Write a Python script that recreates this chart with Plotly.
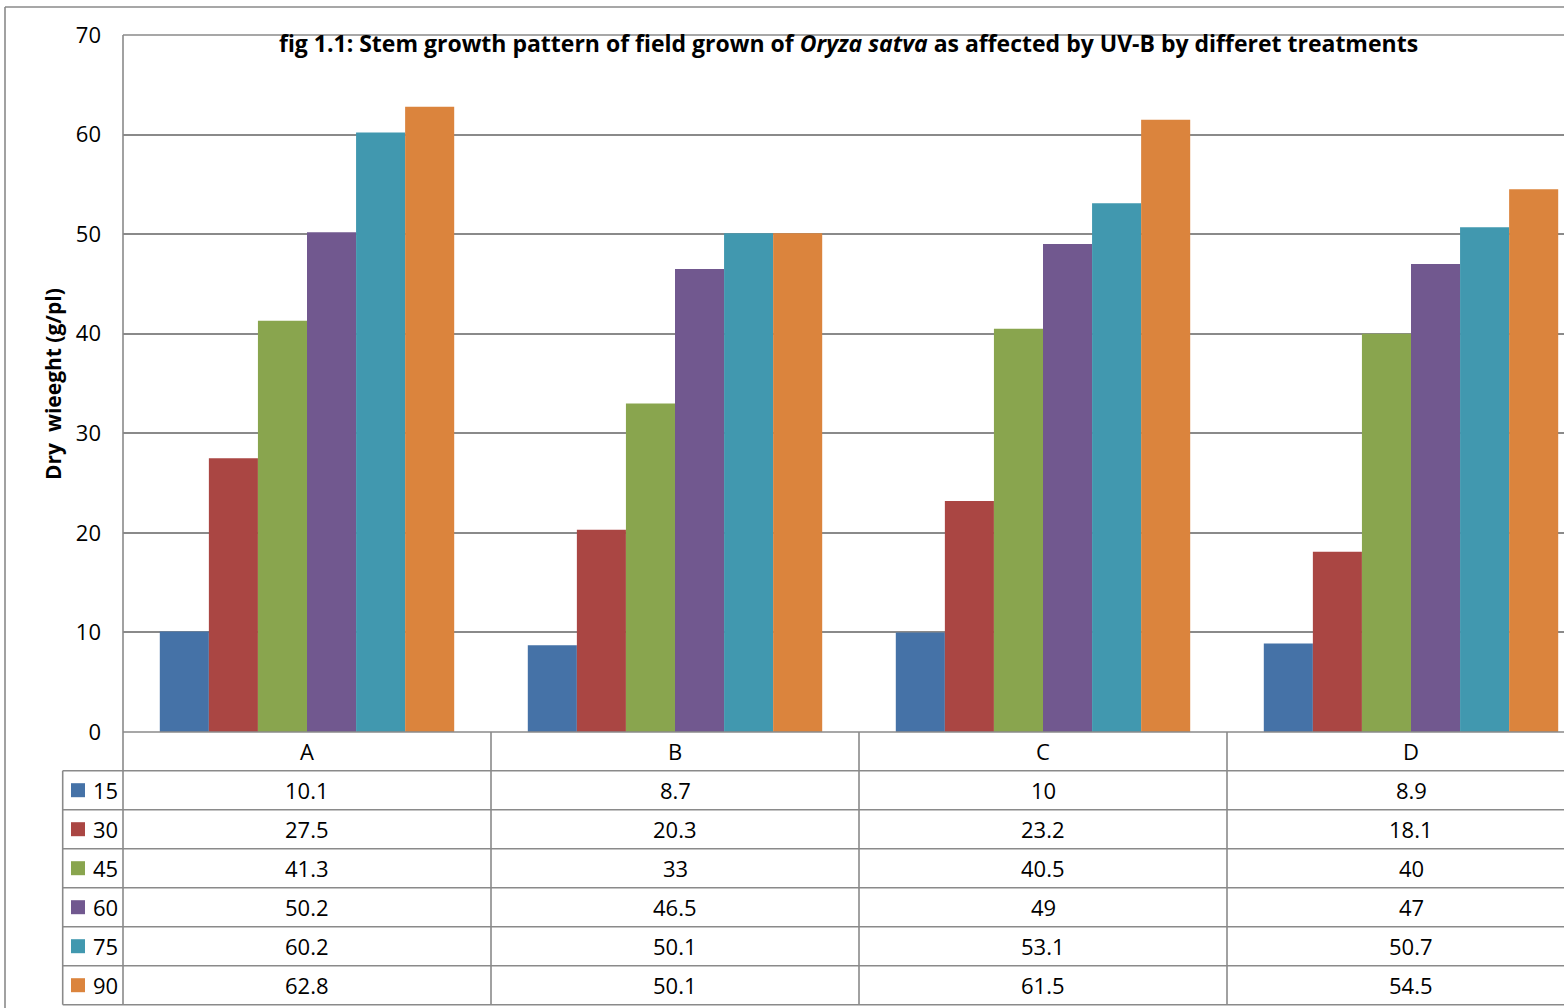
import plotly.graph_objects as go

categories = ["A", "B", "C", "D"]
series_names = ["15", "30", "45", "60", "75", "90"]
v15 = [10.1, 8.7, 10, 8.9]
v30 = [27.5, 20.3, 23.2, 18.1]
v45 = [41.3, 33, 40.5, 40]
v60 = [50.2, 46.5, 49, 47]
v75 = [60.2, 50.1, 53.1, 50.7]
v90 = [62.8, 50.1, 61.5, 54.5]
series_values = [v15, v30, v45, v60, v75, v90]
colors = ["#4572A7", "#AA4643", "#89A54E", "#71588F", "#4198AF", "#DB843D"]
y_ticks = [0, 10, 20, 30, 40, 50, 60, 70]

W, H = 1564, 1008
L, R, T, B = 123, 0, 35, 276
PW, PH = W - L - R, H - T - B
CAT_W = 368.0

FONT = "Open Sans"
FS = 22
GRID = "#8a8a8a"


def px(xp):
    return (xp - L) / PW


def py(yp):
    return (T + PH - yp) / PH


fig = go.Figure()
for name, vals, col in zip(series_names, series_values, colors):
    fig.add_trace(go.Bar(x=categories, y=vals, name=name, marker=dict(color=col, line=dict(width=0)),
                         showlegend=False))

x_max = -0.5 + PW / CAT_W

shapes = []
line = dict(color=GRID, width=1.6)
# outer chart border
shapes.append(dict(type="line", xref="paper", yref="paper", x0=px(5), x1=px(5), y0=py(7), y1=py(1012), line=line))
shapes.append(dict(type="line", xref="paper", yref="paper", x0=px(5), x1=px(1570), y0=py(7), y1=py(7), line=line))
# plot area top border
shapes.append(dict(type="line", xref="paper", yref="paper", x0=0, x1=1.01, y0=1, y1=1, line=line))
# y axis line extending through table
shapes.append(dict(type="line", xref="paper", yref="paper", x0=0, x1=0, y0=1, y1=py(1004.7), line=line))
# table horizontal lines
header_bottom = 770.7
row_h = 39.0
row_lines = [732.0] + [header_bottom + k * row_h for k in range(len(series_names) + 1)]
for i, yl in enumerate(row_lines):
    x0 = 0 if i == 0 else px(62.7)
    shapes.append(dict(type="line", xref="paper", yref="paper", x0=x0, x1=1.01, y0=py(yl), y1=py(yl), line=line))
# legend column left border
shapes.append(dict(type="line", xref="paper", yref="paper", x0=px(62.7), x1=px(62.7),
                   y0=py(header_bottom), y1=py(row_lines[-1]), line=line))
# category dividers
for k in range(1, len(categories)):
    shapes.append(dict(type="line", xref="x", yref="paper", x0=k - 0.5, x1=k - 0.5,
                       y0=0, y1=py(row_lines[-1]), line=line))

annotations = []
# header row category labels
for i, c in enumerate(categories):
    annotations.append(dict(x=i, y=py((732 + header_bottom) / 2), xref="x", yref="paper", text=c,
                            showarrow=False, font=dict(family=FONT, size=FS, color="#000"),
                            xanchor="center", yanchor="middle"))
# table rows
for r, (name, vals, col) in enumerate(zip(series_names, series_values, colors)):
    yc = header_bottom + (r + 0.5) * row_h
    shapes.append(dict(type="rect", xref="paper", yref="paper", x0=px(71), x1=px(85),
                       y0=py(yc - 7), y1=py(yc + 7), fillcolor=col, line=dict(width=0)))
    annotations.append(dict(x=px(91), y=py(yc), xref="paper", yref="paper", text=name, showarrow=False,
                            font=dict(family=FONT, size=FS, color="#000"), xanchor="left", yanchor="middle"))
    for i, v in enumerate(vals):
        annotations.append(dict(x=i, y=py(yc), xref="x", yref="paper", text=f"{v:g}", showarrow=False,
                                font=dict(family=FONT, size=FS, color="#000"),
                                xanchor="center", yanchor="middle"))

# y axis title
annotations.append(dict(x=px(53), y=py(384), xref="paper", yref="paper",
                        text="<b>Dry  wieeght (g/pl)</b>", textangle=-90, showarrow=False,
                        font=dict(family=FONT, size=21, color="#000"), xanchor="center", yanchor="middle"))

fig.update_layout(
    width=W, height=H,
    margin=dict(l=L, r=R, t=T, b=B, pad=0),
    paper_bgcolor="white", plot_bgcolor="white",
    barmode="group", bargap=0.2, bargroupgap=0,
    title=dict(text="<b>fig 1.1: Stem growth pattern of field grown of <i>Oryza satva</i> as affected by UV-B by differet treatments</b>",
               xref="container", yref="container", x=848.5 / W, y=1 - 44 / H,
               xanchor="center", yanchor="middle", font=dict(family=FONT, size=23, color="#000")),
    xaxis=dict(type="category", range=[-0.5, x_max], showticklabels=False, showgrid=False,
               zeroline=False, showline=False, ticks=""),
    yaxis=dict(range=[0, 70], tickvals=y_ticks, showgrid=True, gridcolor=GRID, gridwidth=1.6,
               zeroline=False, showline=False, ticks="", ticklabelstandoff=21,
               tickfont=dict(family=FONT, size=FS, color="#000")),
    shapes=shapes, annotations=annotations,
    font=dict(family=FONT),
)

fig.write_html("out.html")
